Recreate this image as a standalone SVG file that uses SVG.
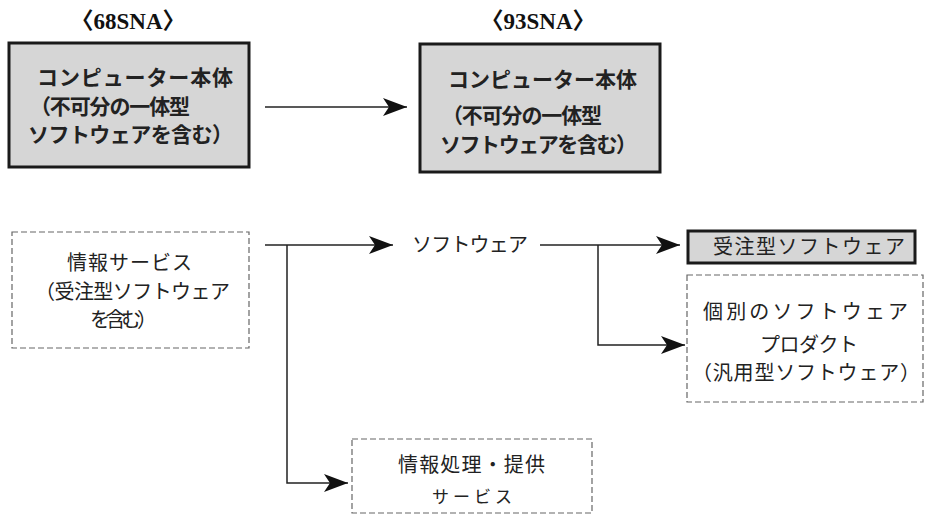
<svg xmlns="http://www.w3.org/2000/svg" width="928" height="520" viewBox="0 0 928 520">
<style>
.jp{font-family:"Noto Sans CJK JP","Noto Sans CJK SC",sans-serif;fill:#222;}
.t{font-size:20px;}
.tb{font-size:21px;font-weight:bold;}
.lbl{font-family:"Liberation Serif","Noto Sans CJK JP",serif;font-weight:bold;font-size:23px;fill:#111;}
.solid{fill:#d6d6d6;stroke:#1a1a1a;stroke-width:3;}
.dash{fill:#fff;stroke:#666;stroke-width:1.2;stroke-dasharray:6 3;}
.conn{fill:none;stroke:#222;stroke-width:1.5;}
</style>
<defs>
<marker id="arr" viewBox="0 0 24 18" refX="24" refY="9" markerWidth="24" markerHeight="18" markerUnits="userSpaceOnUse" orient="auto">
<path d="M0,0 L24,9 L0,18 L6,9 z" fill="#111"/>
</marker>
</defs>
<rect width="928" height="520" fill="#fff"/>
<text class="lbl" x="128" y="29" text-anchor="middle">〈68SNA〉</text>
<text class="lbl" x="538" y="29" text-anchor="middle">〈93SNA〉</text>
<g id="connectors">
<path class="conn" d="M265,107 H407" marker-end="url(#arr)"/>
<path class="conn" d="M265,245 H393" marker-end="url(#arr)"/>
<path class="conn" d="M287,245 V483 H348" marker-end="url(#arr)"/>
<path class="conn" d="M540,245 H680" marker-end="url(#arr)"/>
<path class="conn" d="M598,245 V345 H685" marker-end="url(#arr)"/>
</g>
<g id="computer68">
<rect class="solid" x="9" y="43" width="240" height="124"/>
<text class="jp tb" x="37" y="85" textLength="196" lengthAdjust="spacing">コンピューター本体</text>
<text class="jp tb" x="30" y="114" textLength="160" lengthAdjust="spacing">（不可分の一体型</text>
<text class="jp tb" x="28" y="142" textLength="205" lengthAdjust="spacing">ソフトウェアを含む）</text>
</g>
<g id="computer93">
<rect class="solid" x="420" y="44" width="240" height="128"/>
<text class="jp tb" x="448" y="87" textLength="189" lengthAdjust="spacing">コンピューター本体</text>
<text class="jp tb" x="442" y="123" textLength="160" lengthAdjust="spacing">（不可分の一体型</text>
<text class="jp tb" x="440" y="152" textLength="197" lengthAdjust="spacing">ソフトウェアを含む）</text>
</g>
<g id="infoservice">
<rect class="dash" x="12" y="232" width="237" height="116"/>
<text class="jp t" x="67" y="270" textLength="125" lengthAdjust="spacing">情報サービス</text>
<text class="jp t" x="35" y="299" textLength="195" lengthAdjust="spacing">（受注型ソフトウェア</text>
<text class="jp t" x="90" y="327" textLength="67" lengthAdjust="spacing">を含む）</text>
</g>
<g id="software">
<text class="jp t" x="412" y="252" textLength="116" lengthAdjust="spacing">ソフトウェア</text>
</g>
<g id="custom">
<rect class="solid" x="688" y="231" width="227" height="32"/>
<text class="jp t" x="713" y="254" textLength="192" lengthAdjust="spacing">受注型ソフトウェア</text>
</g>
<g id="packaged">
<rect class="dash" x="687" y="275" width="236" height="127"/>
<text class="jp t" x="703" y="319" textLength="205" lengthAdjust="spacing">個別のソフトウェア</text>
<text class="jp t" x="760" y="352" textLength="98" lengthAdjust="spacing">プロダクト</text>
<text class="jp t" x="692" y="380" textLength="228" lengthAdjust="spacing">（汎用型ソフトウェア）</text>
</g>
<g id="processing">
<rect class="dash" x="352" y="439" width="240" height="74"/>
<text class="jp t" x="398" y="472" textLength="147" lengthAdjust="spacing">情報処理・提供</text>
<text class="jp" font-size="17" x="432" y="503" textLength="80" lengthAdjust="spacing">サービス</text>
</g>
</svg>
